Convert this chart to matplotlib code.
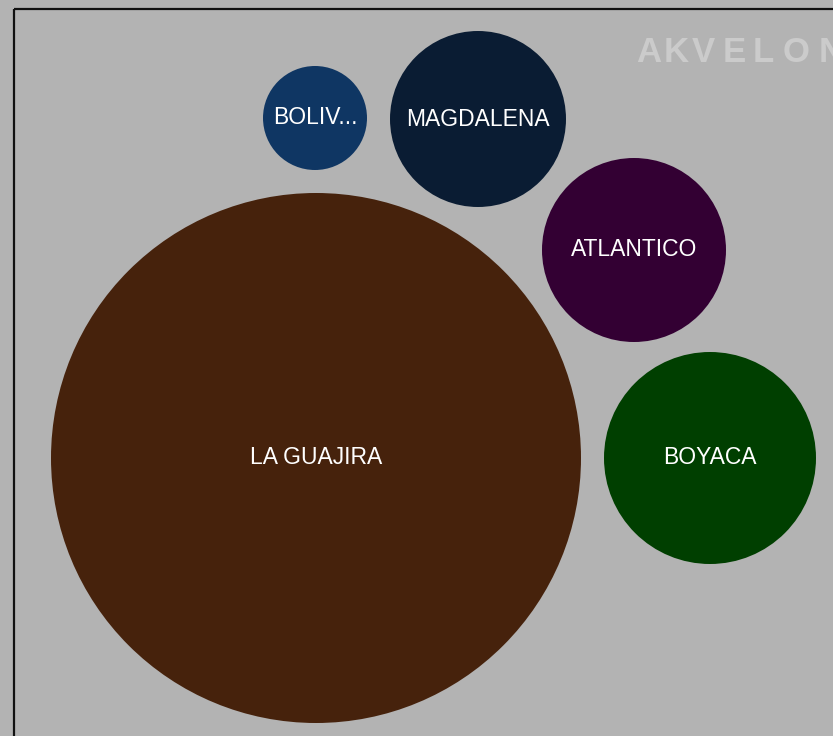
import matplotlib
matplotlib.use("Agg")
import matplotlib.pyplot as plt
from matplotlib.patches import Circle, Rectangle
import numpy as np

# Data
labels = ["LA GUAJIRA", "BOYACA", "ATLANTICO", "MAGDALENA", "BOLIV..."]
values = [70225, 11236, 8464, 7744, 2704]
colors = ["#46220c", "#003f00", "#330033", "#0a1c33", "#0f3663"]
# packed layout (pixel space)
pos_x = [316, 710, 634, 478, 315]
pos_y = [458, 458, 250, 119, 118]

W, H = 833, 736
fig = plt.figure(figsize=(W / 100, H / 100), dpi=100)
fig.patch.set_facecolor("#b3b3b3")
ax = fig.add_axes([0, 0, 1, 1])
ax.set_xlim(0, W)
ax.set_ylim(H, 0)
ax.set_facecolor("#b3b3b3")
ax.axis("off")

# frame
ax.add_patch(Rectangle((14, 9), 1000, 1000, fill=False, edgecolor="#111111", linewidth=1.6))

scale = 265 / np.sqrt(max(values))
for lab, v, c, x, y in zip(labels, values, colors, pos_x, pos_y):
    r = scale * np.sqrt(v)
    ax.add_patch(Circle((x, y), r, facecolor=c, edgecolor="none"))
    ax.text(x, y, lab, color="white", ha="center", va="center",
            fontsize=16.5, family=["Liberation Sans", "DejaVu Sans"])

# watermark (letter-spaced)
wm_letters = list("AKVELON")
wm_x = [649, 676, 703, 734, 763, 796, 831]
for ch, x in zip(wm_letters, wm_x):
    ax.text(x, 53, ch, color="#cbcbcb", ha="center", va="center",
            fontsize=25, fontweight="bold", family=["Liberation Sans", "DejaVu Sans"])

fig.savefig("out.png", dpi=100, facecolor=fig.get_facecolor())
